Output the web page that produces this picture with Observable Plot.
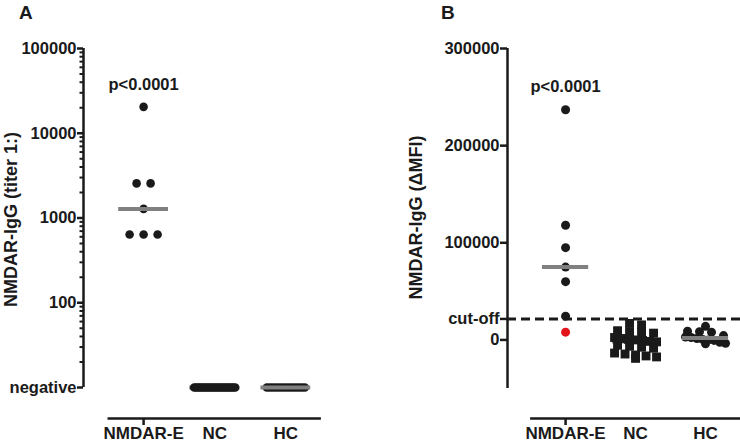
<!DOCTYPE html>
<html><head><meta charset="utf-8">
<script src="https://cdn.jsdelivr.net/npm/d3@7"></script>
<script src="https://cdn.jsdelivr.net/npm/@observablehq/plot@0.6"></script>
<style>
body{margin:0;background:#fff;}
#wrap{position:relative;width:740px;height:443px;overflow:hidden;font-family:"Liberation Sans",Arial,sans-serif;}
.panel{position:absolute;top:0;}
.plabel{position:absolute;font-weight:bold;font-size:19px;color:#1a1a1a;line-height:1;}
</style></head><body>
<div id="wrap">
 <div id="pa" class="panel" style="left:0"></div>
 <div id="pb" class="panel" style="left:370px"></div>
 <div class="plabel" style="left:19px;top:3px">A</div>
 <div class="plabel" style="left:441px;top:3px">B</div>
</div>
<script>
// ---- data ----
const groups = ["NMDAR-E", "NC", "HC"];
const pValueText = "p<0.0001";

// Panel A: titers (10 = "negative")
const titerNMDAR = [20480, 2560, 2560, 1280, 640, 640, 640];
const titerNC = [10,10,10,10,10,10,10,10,10,10,10,10,10,10,10,10,10,10,10,10,10,10,10];
const titerHC = [10,10,10,10,10,10,10,10,10,10,10,10,10,10];
const titerTicks = [10, 100, 1000, 10000, 100000];
const titerTickLabels = ["negative", "100", "1000", "10000", "100000"];
const titleA = "NMDAR-IgG (titer 1:)";

// Panel B: delta MFI
const mfiNMDAR = [237000, 118000, 95000, 75000, 60000, 24500, 8000];
const mfiNC = [17000, 15500, 9500, 8500, 8000, 7000, 2500, 1500, 500, 0, -500, -1500, -2000,
               -5500, -6500, -7500, -8500, -13500, -14500, -15500, -16500, -17500, -19000];
const mfiHC = [14000, 9000, 8500, 8000, 4500, 3000, 2500, 1500, 500, 0, -500, -2500, -3500, -4000];
const mfiTicks = [0, 100000, 200000, 300000];
const mfiCutoff = 21600;
const cutoffLabel = "cut-off";
const titleB = "NMDAR-IgG (\u0394MFI)";

// ---- helpers ----
const ink = "#1a1a1a", grayMed = "#808080", red = "#e3131b";
const font = '"Liberation Sans", Arial, sans-serif';

function swarm(values, gi, binOf, maxStep, maxSpan, pxPerUnit) {
  const rows = d3.group(values.map((v, i) => ({v, i})), d => binOf(d.v));
  const out = [];
  for (const [, row] of rows) {
    row.sort((a, b) => b.v - a.v);
    const n = row.length;
    const step = n > 1 ? Math.min(maxStep, maxSpan / (n - 1)) : 0;
    row.forEach((d, k) => out.push({group: groups[gi], value: d.v, x: gi + 1 + (k - (n - 1) / 2) * step / pxPerUnit}));
  }
  return out;
}
function medians(sets, halfWidth) {
  return sets.map((vals, gi) => ({group: groups[gi], median: d3.median(vals), x1: gi + 1 - halfWidth, x2: gi + 1 + halfWidth}));
}

// ---- Panel A ----
{
  const W = 370, H = 443, ml = 83, mr = 42;
  const xDom = [0.155, 3.6];
  const px = (W - ml - mr) / (xDom[1] - xDom[0]);
  const yDom = [titerTicks[0], titerTicks[titerTicks.length - 1]];
  const minor = d3.scaleLog().domain(yDom).ticks().filter(t => !titerTicks.includes(t));
  const binA = v => Math.round(Math.log10(v) * 10);
  const pts = [
    ...swarm(titerNMDAR, 0, binA, 14, 40, px),
    ...swarm(titerNC, 1, binA, 14, 41, px),
    ...swarm(titerHC, 2, binA, 14, 38, px)
  ];
  const med = medians([titerNMDAR, titerNC, titerHC], 0.35);
  const plot = Plot.plot({
    width: W, height: H, marginTop: 48, marginLeft: ml, marginRight: mr, marginBottom: 25,
    style: {fontFamily: font, fontWeight: "bold", fontSize: "16px", color: ink, background: "white"},
    x: {domain: xDom, axis: null},
    y: {type: "log", domain: yDom, range: [387, 48], axis: null},
    marks: [
      Plot.ruleX([xDom[0]], {y1: yDom[0], y2: yDom[1], stroke: ink, strokeWidth: 2.5}),
      Plot.ruleY([yDom[0]], {x1: 0.5, x2: groups.length + 0.5, dy: 31, stroke: ink, strokeWidth: 2.5}),
      Plot.axisY({ticks: minor, tickSize: 3.5, tickFormat: () => "", strokeWidth: 2, label: null}),
      Plot.axisY({ticks: titerTicks, tickSize: 6, tickPadding: 1, tickFormat: d => titerTickLabels[titerTicks.indexOf(d)], strokeWidth: 2.5, label: null, fontSize: 16.5}),
      Plot.axisX({ticks: [1], tickSize: 7, tickFormat: () => "", strokeWidth: 2.5, label: null}),
      Plot.axisX({ticks: [1, 2, 3], tickSize: 0, tickPadding: 8, tickFormat: d => groups[d - 1], label: null, fontSize: 17}),
      Plot.dot(pts.filter(d => d.group !== "NC"), {x: "x", y: "value", r: 4.3, fill: ink}),
      Plot.ruleY(med, {y: "median", x1: "x1", x2: "x2", stroke: grayMed, strokeWidth: 4}),
      Plot.dot(pts.filter(d => d.group === "NC"), {x: "x", y: "value", r: 4.3, fill: ink}),
      Plot.text([pValueText], {x: [1], text: d => d, frameAnchor: "top", dy: 30, fontSize: 16.5}),
      Plot.text([titleA], {text: d => d, frameAnchor: "left", textAnchor: "middle", dx: -72, dy: -14, rotate: -90, fontSize: 18})
    ]
  });
  document.getElementById("pa").appendChild(plot);
}

// ---- Panel B ----
{
  const W = 370, H = 443, ml = 137, mr = 0;
  const xDom = [0.17, 3.5];
  const px = (W - ml - mr) / (xDom[1] - xDom[0]);
  const yDom = [-50000, mfiTicks[mfiTicks.length - 1]];
  const binB = v => Math.round(v / 7000);
  const ptsE = swarm(mfiNMDAR, 0, binB, 12, 40, px);
  const ptsNC = swarm(mfiNC, 1, binB, 12, 42, px);
  const ptsHC = swarm(mfiHC, 2, binB, 12, 40, px);
  const med = medians([mfiNMDAR, mfiNC, mfiHC], 0.33);
  const plot = Plot.plot({
    width: W, height: H, marginTop: 48, marginLeft: ml, marginRight: mr, marginBottom: 25,
    style: {fontFamily: font, fontWeight: "bold", fontSize: "16px", color: ink, background: "white"},
    x: {domain: xDom, axis: null},
    y: {domain: yDom, range: [388, 48], axis: null},
    marks: [
      Plot.ruleX([xDom[0]], {y1: yDom[0], y2: yDom[1], stroke: ink, strokeWidth: 2.5}),
      Plot.ruleY([yDom[0]], {x1: 0.5, x2: groups.length + 0.5, dy: 30, stroke: ink, strokeWidth: 2.5}),
      Plot.axisY({ticks: mfiTicks, tickSize: 7, tickPadding: 1, tickFormat: d => String(d), strokeWidth: 2.5, label: null, fontSize: 16.5}),
      Plot.axisY({ticks: [mfiCutoff], tickSize: 7, tickPadding: 1, tickFormat: () => cutoffLabel, strokeWidth: 2.5, label: null, fontSize: 16.5}),
      Plot.axisX({ticks: [1], tickSize: 7, tickFormat: () => "", strokeWidth: 2.5, label: null}),
      Plot.axisX({ticks: [1, 2, 3], tickSize: 0, tickPadding: 8, tickFormat: d => groups[d - 1], label: null, fontSize: 17}),
      Plot.ruleY([mfiCutoff], {stroke: ink, strokeWidth: 3, strokeDasharray: "9,5"}),
      Plot.dot(ptsE, {x: "x", y: "value", r: 4.5, fill: d => d.value < mfiCutoff ? red : ink}),
      Plot.dot(ptsHC, {x: "x", y: "value", r: 4.5, fill: ink}),
      Plot.ruleY(med, {y: "median", x1: "x1", x2: "x2", stroke: grayMed, strokeWidth: 4}),
      Plot.dot(ptsNC, {x: "x", y: "value", r: 5, symbol: "square", fill: ink}),
      Plot.text([pValueText], {x: [1], text: d => d, frameAnchor: "top", dy: 32, fontSize: 16.5}),
      Plot.text([titleB], {text: d => d, frameAnchor: "left", textAnchor: "middle", dx: -91, dy: -16, rotate: -90, fontSize: 18})
    ]
  });
  document.getElementById("pb").appendChild(plot);
}
</script>
</body></html>
